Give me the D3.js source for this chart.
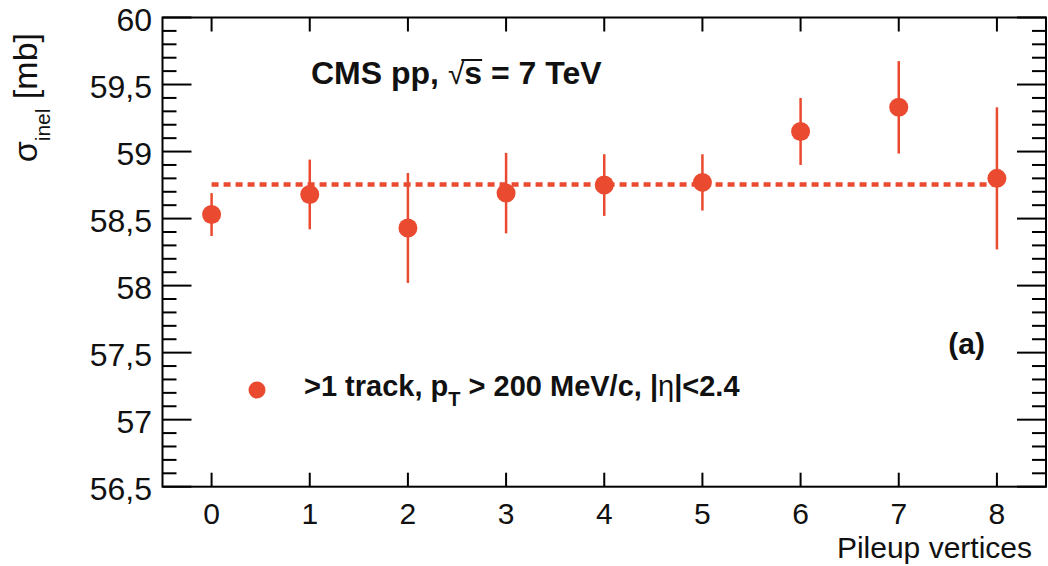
<!DOCTYPE html>
<html>
<head>
<meta charset="utf-8">
<script src="https://cdn.jsdelivr.net/npm/d3@7"></script>
<style>
  html, body { margin: 0; padding: 0; background: #fff; }
  svg { display: block; }
  text { font-family: "Liberation Sans", Arial, Helvetica, sans-serif; }
</style>
</head>
<body>
<div id="chart"></div>
<script>
// Inelastic cross section vs number of pileup vertices
const pileup   = [0, 1, 2, 3, 4, 5, 6, 7, 8];
const sigma    = [58.53, 58.68, 58.43, 58.69, 58.75, 58.77, 59.15, 59.33, 58.80];
const sigmaErr = [0.16, 0.26, 0.41, 0.30, 0.23, 0.21, 0.25, 0.345, 0.53];
const fitValue = 58.755;           // constant fit over 0..8
const yTicks   = [56.5, 57, 57.5, 58, 58.5, 59, 59.5, 60];
const yTickLabels = ["56,5", "57", "57,5", "58", "58,5", "59", "59,5", "60"];

const W = 1048, H = 566;
const red = "#ea4a30";

const svg = d3.select("#chart").append("svg")
  .attr("width", W).attr("height", H);

const x = d3.scaleLinear().domain([-0.5, 8.5]).range([162.5, 1046]);
const y = d3.scaleLinear().domain([56.5, 60]).range([486.7, 17.5]);

const [x0, x1] = x.range();
const [yb, yt] = y.range();

// frame
svg.append("rect")
  .attr("x", x0).attr("y", yt)
  .attr("width", x1 - x0).attr("height", yb - yt)
  .attr("fill", "none").attr("stroke", "#000").attr("stroke-width", 2);

// y ticks: majors every 0.5, minors every 0.1, mirrored on the right
const yMinor = d3.range(56.5, 60.0001, 0.1).map(v => +v.toFixed(1));
const ticksG = svg.append("g").attr("stroke", "#000").attr("stroke-width", 2);
yMinor.forEach(v => {
  const isMajor = Math.abs(v * 2 - Math.round(v * 2)) < 1e-6;
  const len = isMajor ? 29 : 14;
  ticksG.append("line")
    .attr("x1", x0).attr("x2", x0 + len)
    .attr("y1", y(v)).attr("y2", y(v));
  ticksG.append("line")
    .attr("x1", x1).attr("x2", x1 - len)
    .attr("y1", y(v)).attr("y2", y(v));
});
// x ticks on bottom and top
pileup.forEach(p => {
  ticksG.append("line")
    .attr("x1", x(p)).attr("x2", x(p))
    .attr("y1", yb).attr("y2", yb - 14);
  ticksG.append("line")
    .attr("x1", x(p)).attr("x2", x(p))
    .attr("y1", yt).attr("y2", yt + 14);
});

// y tick labels
svg.append("g").selectAll("text").data(yTicks).join("text")
  .attr("x", 152).attr("y", d => y(d) + 13)
  .attr("text-anchor", "end")
  .attr("font-size", 32)
  .attr("fill", "#111")
  .text((d, i) => yTickLabels[i]);

// x tick labels
svg.append("g").selectAll("text").data(pileup).join("text")
  .attr("x", d => x(d)).attr("y", 524)
  .attr("text-anchor", "middle")
  .attr("font-size", 30)
  .attr("fill", "#111")
  .text(d => d);

// x axis title
svg.append("text")
  .attr("x", 1032).attr("y", 558)
  .attr("text-anchor", "end")
  .attr("font-size", 30)
  .attr("fill", "#111")
  .text("Pileup vertices");

// y axis title
const yTitle = svg.append("text")
  .attr("transform", "translate(37,33) rotate(-90)")
  .attr("text-anchor", "end")
  .attr("font-size", 34)
  .attr("fill", "#111");
yTitle.append("tspan").text("σ");
yTitle.append("tspan").attr("font-size", 21).attr("dy", 13).text("inel");
yTitle.append("tspan").attr("dy", -13).text(" [mb]");

// constant fit line
svg.append("line")
  .attr("x1", x(0)).attr("x2", x(8))
  .attr("y1", y(fitValue)).attr("y2", y(fitValue))
  .attr("stroke", red).attr("stroke-width", 4.5)
  .attr("stroke-dasharray", "7,5");

// error bars
svg.append("g").selectAll("line").data(pileup).join("line")
  .attr("x1", d => x(d)).attr("x2", d => x(d))
  .attr("y1", (d, i) => y(sigma[i] - sigmaErr[i]))
  .attr("y2", (d, i) => y(sigma[i] + sigmaErr[i]))
  .attr("stroke", red).attr("stroke-width", 2.5);

// markers
svg.append("g").selectAll("circle").data(pileup).join("circle")
  .attr("cx", d => x(d))
  .attr("cy", (d, i) => y(sigma[i]))
  .attr("r", 9.5)
  .attr("fill", red);

// header text
const head = svg.append("text")
  .attr("x", 311).attr("y", 84)
  .attr("font-size", 32).attr("font-weight", "bold")
  .attr("fill", "#111");
head.append("tspan").text("CMS pp, ");
head.append("tspan").attr("font-weight", "normal").attr("font-size", 30).text("√");
head.append("tspan").text("s = 7 TeV");
// overline of the square root over "s"
{
  const node = head.node();
  const idx = "CMS pp, √".length;
  const ext = node.getExtentOfChar(idx);
  const rootExt = node.getExtentOfChar(idx - 1);
  svg.append("line")
    .attr("x1", rootExt.x + rootExt.width - 3)
    .attr("x2", ext.x + ext.width)
    .attr("y1", ext.y + 5).attr("y2", ext.y + 5)
    .attr("stroke", "#111").attr("stroke-width", 2);
}

// panel label
svg.append("text")
  .attr("x", 985).attr("y", 354)
  .attr("text-anchor", "end")
  .attr("font-size", 30).attr("font-weight", "bold")
  .attr("fill", "#111")
  .text("(a)");

// legend
svg.append("circle")
  .attr("cx", 257).attr("cy", 390).attr("r", 8.5)
  .attr("fill", red);
const leg = svg.append("text")
  .attr("x", 304).attr("y", 396)
  .attr("font-size", 29).attr("font-weight", "bold")
  .attr("fill", "#111");
leg.append("tspan").text(">1 track, p");
leg.append("tspan").attr("font-size", 20).attr("dy", 10).text("T");
leg.append("tspan").attr("dy", -10).text(" > 200 MeV/c, |");
leg.append("tspan").attr("font-weight", "normal").text("η");
leg.append("tspan").text("|<2.4");
</script>
</body>
</html>
